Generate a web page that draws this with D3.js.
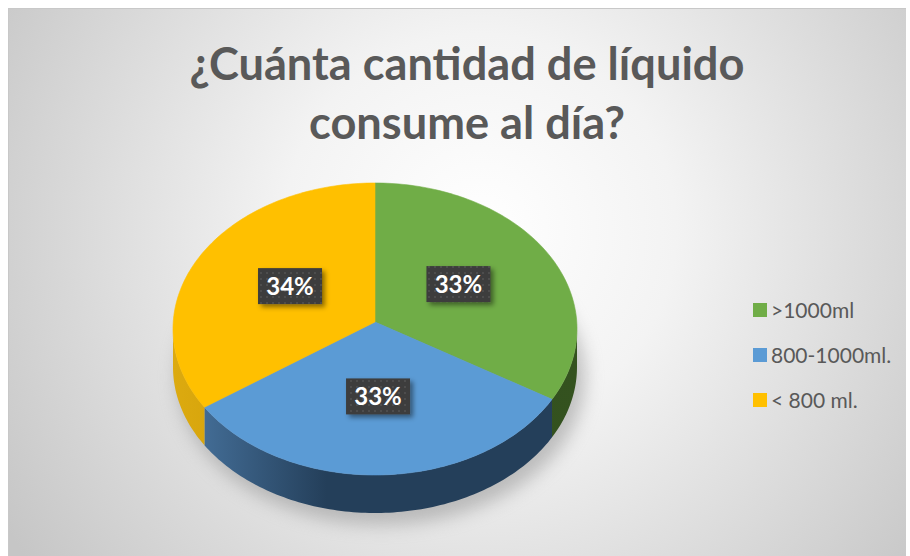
<!DOCTYPE html>
<html>
<head>
<meta charset="utf-8">
<script src="https://cdn.jsdelivr.net/npm/d3@7"></script>
<style>
  body { margin: 0; background: #fff; }
  svg { display: block; }
</style>
</head>
<body>
<svg id="chart"></svg>
<script>
// chart values
const titleLines = ["¿Cuánta cantidad de líquido", "consume al día?"];
const categories = [">1000ml", "800-1000ml.", "< 800 ml."];
const shares = [33, 33, 34];
const labels = ["33%", "33%", "34%"];
const topColors = ["#70ad47", "#5b9bd5", "#ffc000"];

const width = 910;
const height = 556;
const svg = d3.select("#chart").attr("width", width).attr("height", height);
const defs = svg.append("defs");

// background radial gradient
const bg = defs.append("radialGradient").attr("id", "bg")
  .attr("gradientUnits", "userSpaceOnUse")
  .attr("cx", 480).attr("cy", 230).attr("r", 560);
bg.append("stop").attr("offset", 0).attr("stop-color", "#ffffff");
bg.append("stop").attr("offset", 0.35).attr("stop-color", "#f3f3f3");
bg.append("stop").attr("offset", 1).attr("stop-color", "#c6c6c6");

svg.append("rect").attr("width", width).attr("height", height).attr("fill", "#fff");
svg.append("rect").attr("x", 8).attr("y", 8).attr("width", 898).attr("height", 548)
  .attr("fill", "url(#bg)");
svg.append("line").attr("x1", 8).attr("x2", 906).attr("y1", 8.5).attr("y2", 8.5)
  .attr("stroke", "#c8c8c8");
svg.append("line").attr("x1", 8.5).attr("x2", 8.5).attr("y1", 8).attr("y2", 556)
  .attr("stroke", "#c8c8c8");

// title
const title = svg.append("g").attr("font-family", "Lato, 'Open Sans', sans-serif")
  .attr("font-weight", "bold").attr("fill", "#595959").attr("text-anchor", "middle");
const t1 = title.append("text").attr("x", 467).attr("y", 80).attr("font-size", 44).text(titleLines[0]);
const w1 = t1.node().getComputedTextLength();
const fs = 44 * 555 / w1;
t1.attr("font-size", fs);
title.append("text").attr("x", 467).attr("y", 139).attr("font-size", fs).text(titleLines[1]);

// pie geometry (apex sits a little above the ellipse centre, as in a perspective view)
const cx = 375, cy = 329, rx = 202, ry = 146, depth = 38, apexY = 322;
const pie = d3.pie().sort(null).value(d => d)(shares);
const px = a => cx + rx * Math.sin(a);
const py = a => cy - ry * Math.cos(a);

function arcPoints(a0, a1, dy) {
  const n = Math.max(2, Math.ceil((a1 - a0) / 0.02));
  return d3.range(n + 1).map(i => {
    const a = a0 + (a1 - a0) * i / n;
    return [px(a), py(a) + dy];
  });
}
const line = d3.line();

// shadow
const blur = defs.append("filter").attr("id", "blur")
  .attr("x", "-30%").attr("y", "-30%").attr("width", "160%").attr("height", "160%");
blur.append("feGaussianBlur").attr("stdDeviation", 9);
svg.append("ellipse").attr("cx", cx + 6).attr("cy", cy + depth + 10)
  .attr("rx", rx + 2).attr("ry", ry + 2).attr("fill", "#8a8a8a").attr("opacity", 0.5)
  .attr("filter", "url(#blur)");

// side gradients
const sideGrad = (id, c0, c1, c2) => {
  const g = defs.append("linearGradient").attr("id", id)
    .attr("gradientUnits", "userSpaceOnUse")
    .attr("x1", cx - rx).attr("x2", cx + rx).attr("y1", 0).attr("y2", 0);
  g.append("stop").attr("offset", 0).attr("stop-color", c0);
  g.append("stop").attr("offset", 0.38).attr("stop-color", c1);
  g.append("stop").attr("offset", 1).attr("stop-color", c2);
};
sideGrad("side0", "#3a5e26", "#2f4c1e", "#34521f");
sideGrad("side1", "#4a77a3", "#243f5a", "#243f5a");
sideGrad("side2", "#dcaa10", "#c99700", "#c99700");

// sides (front half only)
pie.forEach((d, i) => {
  const a0 = Math.max(d.startAngle, Math.PI / 2);
  const a1 = Math.min(d.endAngle, Math.PI * 1.5);
  if (a1 <= a0) return;
  const pts = arcPoints(a0, a1, 0).concat(arcPoints(a0, a1, depth).reverse());
  svg.append("path").attr("d", line(pts) + "Z").attr("fill", `url(#side${i})`);
});

// top faces
pie.forEach((d, i) => {
  const pts = [[cx, apexY]].concat(arcPoints(d.startAngle, d.endAngle, 0));
  svg.append("path").attr("d", line(pts) + "Z").attr("fill", topColors[i])
    .attr("stroke", topColors[i]).attr("stroke-width", 0.6);
});

// label boxes
const pat = defs.append("pattern").attr("id", "dots").attr("patternUnits", "userSpaceOnUse")
  .attr("width", 6).attr("height", 6);
pat.append("rect").attr("width", 6).attr("height", 6).attr("fill", "#3c3c3c");
pat.append("rect").attr("x", 2).attr("y", 2).attr("width", 2).attr("height", 2).attr("fill", "#4d4d4d");

const sh = defs.append("filter").attr("id", "boxshadow")
  .attr("x", "-30%").attr("y", "-30%").attr("width", "170%").attr("height", "170%");
sh.append("feDropShadow").attr("dx", 3).attr("dy", 3).attr("stdDeviation", 2.5)
  .attr("flood-color", "#000").attr("flood-opacity", 0.45);

const labelPos = pie.map(d => {
  const a = (d.startAngle + d.endAngle) / 2;
  return [cx + 0.48 * rx * Math.sin(a), apexY - 0.51 * ry * Math.cos(a)];
});
pie.forEach((d, i) => {
  const [lx, ly] = labelPos[i];
  const bw = 64, bh = 36;
  svg.append("rect").attr("x", lx - bw / 2).attr("y", ly - bh / 2)
    .attr("width", bw).attr("height", bh).attr("fill", "url(#dots)")
    .attr("filter", "url(#boxshadow)");
  svg.append("text").attr("x", lx).attr("y", ly + 8.5).attr("text-anchor", "middle")
    .attr("font-family", "Lato, 'Open Sans', sans-serif").attr("font-weight", "bold")
    .attr("font-size", 24).attr("fill", "#fff").text(labels[i]);
});

// legend
const legend = svg.append("g").attr("font-family", "Lato, 'Open Sans', sans-serif")
  .attr("font-size", 21).attr("fill", "#595959");
const ly = d3.scalePoint().domain(categories).range([310, 400]);
categories.forEach((c, i) => {
  legend.append("rect").attr("x", 753).attr("y", ly(c) - 7).attr("width", 14).attr("height", 14)
    .attr("fill", topColors[i]);
  legend.append("text").attr("x", 771).attr("y", ly(c) + 7.5).text(c);
});
</script>
</body>
</html>
